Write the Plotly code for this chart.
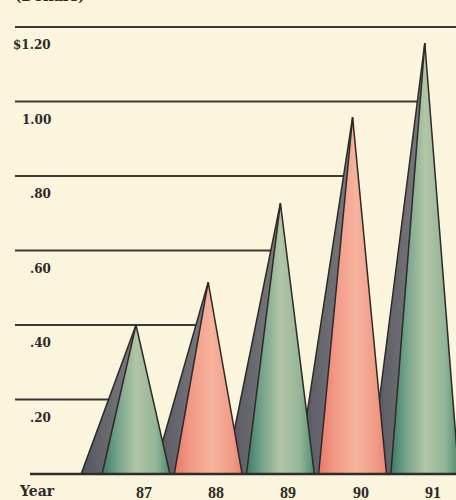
import plotly.graph_objects as go

# ---- data ----
years = ["87", "88", "89", "90", "91"]
values = [0.40, 0.515, 0.727, 0.958, 1.157]
cone_kind = ["green", "pink", "green", "pink", "green"]
grid_values = [1.20, 1.00, 0.80, 0.60, 0.40, 0.20]
grid_labels = ["$1.20", "1.00", ".80", ".60", ".40", ".20"]

# ---- styling / layout constants ----
W, H = 456, 500
PX_X = 72.2      # pixels per category
PX_Y = 372.5     # pixels per dollar
X0_PX = 136      # pixel of first category
Y0_PX = 474      # pixel of zero
X_RANGE = [-X0_PX / PX_X, (W - X0_PX) / PX_X]
Y_RANGE = [-(H - Y0_PX) / PX_Y, Y0_PX / PX_Y]

def px_to_x(p):
    return (p - X0_PX) / PX_X

MAIN_HALF = 0.47
SHADOW_OFF = 0.76
BG = "#fbf5de"
INK = "#2d2a28"

fills = {
    "green": [[0, "#3d7a68"], [0.2, "#6f9f86"], [0.5, "#b2c6a6"], [0.8, "#93b597"], [1, "#4e8a70"]],
    "pink": [[0, "#e97a69"], [0.25, "#f29a86"], [0.55, "#f7b39d"], [0.85, "#f19b85"], [1, "#e8836f"]],
}
shadow_scale = [[0, "#545560"], [0.6, "#6e6d74"], [1, "#7d7a7c"]]

fig = go.Figure()

# gridlines: from left margin to the first taller cone's shadow edge
grid_start = px_to_x(15)
for gv in grid_values:
    end = X_RANGE[1]
    for i, v in enumerate(values):
        if v > gv + 1e-9:
            end = (i - SHADOW_OFF) + SHADOW_OFF * gv / v
            break
    fig.add_trace(go.Scatter(x=[grid_start, end], y=[gv, gv], mode="lines",
                             line=dict(color="#3b3835", width=2),
                             hoverinfo="skip", showlegend=False))

# shadows first
for i, v in enumerate(values):
    fig.add_trace(go.Scatter(
        x=[i - SHADOW_OFF, i, i, i - SHADOW_OFF], y=[0, v, 0, 0],
        mode="lines", fill="toself",
        fillgradient=dict(type="horizontal", colorscale=shadow_scale),
        line=dict(color=INK, width=1.5),
        hoverinfo="skip", showlegend=False))

# main cones
for i, (v, k) in enumerate(zip(values, cone_kind)):
    fig.add_trace(go.Scatter(
        x=[i - MAIN_HALF, i, i + MAIN_HALF, i - MAIN_HALF], y=[0, v, 0, 0],
        mode="lines", fill="toself",
        fillgradient=dict(type="horizontal", colorscale=fills[k]),
        line=dict(color=INK, width=1.5),
        hoverinfo="skip", showlegend=False))

# baseline
fig.add_trace(go.Scatter(x=[px_to_x(30), X_RANGE[1]], y=[0, 0], mode="lines",
                         line=dict(color="#2f2c2a", width=2.5),
                         hoverinfo="skip", showlegend=False))

ann = []
for gv, gl in zip(grid_values, grid_labels):
    ann.append(dict(x=px_to_x(53), y=gv, xref="x", yref="y", text=gl,
                    xanchor="right", yanchor="middle", yshift=-18, showarrow=False,
                    font=dict(family="DejaVu Serif", size=12, color=INK, weight="bold")))
for i, yr in enumerate(years):
    ann.append(dict(x=i, y=0, xref="x", yref="y", text=yr, xanchor="center",
                    yanchor="middle", yshift=-18, xshift=8, showarrow=False,
                    font=dict(family="Liberation Serif", size=16, color=INK, weight="bold")))
ann.append(dict(x=px_to_x(17), y=0, xref="x", yref="y", text="Year", xanchor="left",
                yanchor="middle", yshift=-17, showarrow=False,
                font=dict(family="DejaVu Serif", size=14, color=INK, weight="bold")))
ann.append(dict(x=px_to_x(13), y=1, xref="x", yref="paper", text="(Dollars)", xanchor="left",
                yanchor="middle", yshift=4, showarrow=False,
                font=dict(family="DejaVu Serif", size=14, color=INK, weight="bold")))

fig.update_layout(
    width=W, height=H,
    margin=dict(l=0, r=0, t=0, b=0),
    paper_bgcolor=BG, plot_bgcolor=BG,
    xaxis=dict(range=X_RANGE, visible=False, fixedrange=True),
    yaxis=dict(range=Y_RANGE, visible=False, fixedrange=True),
    annotations=ann,
    showlegend=False,
)

fig.write_html("out.html")
